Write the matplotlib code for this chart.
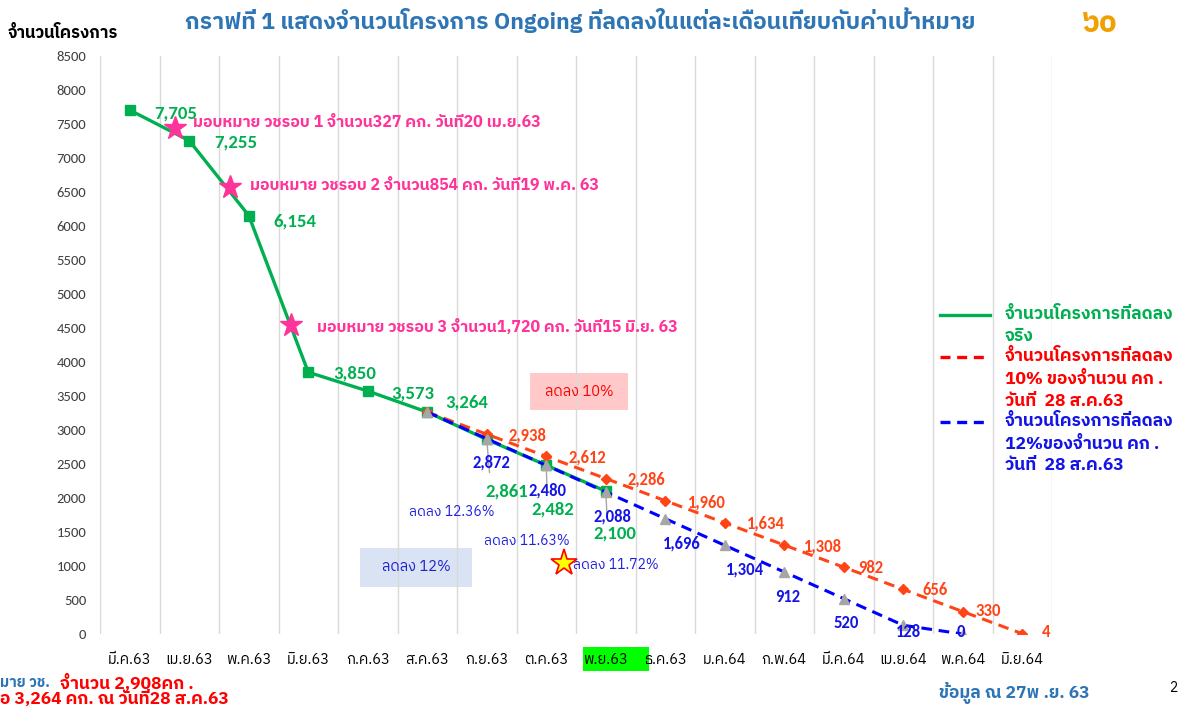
import matplotlib
matplotlib.use('Agg')
import matplotlib.pyplot as plt
import matplotlib.transforms as mtransforms
from matplotlib.patches import Rectangle
from matplotlib.lines import Line2D
import numpy as np

# ข้อมูล
months = ['มี.ค.63', 'เม.ย.63', 'พ.ค.63', 'มิ.ย.63', 'ก.ค.63', 'ส.ค.63', 'ก.ย.63', 'ต.ค.63',
          'พ.ย.63', 'ธ.ค.63', 'ม.ค.64', 'ก.พ.64', 'มี.ค.64', 'เม.ย.64', 'พ.ค.64', 'มิ.ย.64']
actual = [7705, 7255, 6154, 3850, 3573, 3264, 2861, 2482, 2100]
target10_start = 5
target10 = [3264, 2938, 2612, 2286, 1960, 1634, 1308, 982, 656, 330, 4]
target12_start = 5
target12 = [3264, 2872, 2480, 2088, 1696, 1304, 912, 520, 128, 0]

# การมอบหมาย วช. (ดาว)
assign_x = [0.76, 1.68, 2.71]
assign_y = [7441, 6573, 4544]
assign_text = ['มอบหมาย วชรอบ 1 จำนวน327 คก. วันที่20 เม.ย.63',
               'มอบหมาย วชรอบ 2 จำนวน854 คก. วันที่19 พ.ค. 63',
               'มอบหมาย วชรอบ 3 จำนวน1,720 คก. วันที่15 มิ.ย. 63']
now_x, now_y = 7.29, 1044

THAI = ['IBM Plex Sans Thai', 'Noto Sans Thai', 'DejaVu Sans']
NUM = ['Carlito', 'Open Sans', 'IBM Plex Sans Thai', 'DejaVu Sans']
plt.rcParams['font.family'] = THAI

GREEN = '#00B050'
RED = '#FF4517'
BLUE = '#0000FF'
PINK = '#FF3399'
TITLE = '#2E75B6'

W, H = 1185, 706
fig = plt.figure(figsize=(W / 100, H / 100), dpi=100)
ax = fig.add_axes([100 / W, (H - 634) / H, 952 / W, 578 / H])

def fx(px):
    return px / W

def fy(py):
    return 1 - py / H

x_all = np.arange(len(months))
x_act = x_all[:len(actual)]
x10 = x_all[target10_start:target10_start + len(target10)]
x12 = x_all[target12_start:target12_start + len(target12)]

# เส้นกราฟ
ax.plot(x_act, actual, color=GREEN, lw=2.4, marker='s', ms=7, zorder=3)
ax.plot(x10, target10, color=RED, lw=2.2, ls=(0, (3.5, 2.2)), marker='D', ms=5.5, zorder=4)
ax.plot(x12, target12, color=BLUE, lw=2.2, ls=(0, (3.5, 2.2)), marker='^', ms=7,
        mfc='#A6A6A6', mec='#A6A6A6', zorder=5)

# ป้ายค่าจริง (สีเขียว)
green_off = [(46, -3), (47, -2), (46, -6), (46, -1), (45, -2), (39, 10), (20, -52), (6, -44), (9, -42)]
for i, (xv, yv) in enumerate(zip(x_act, actual)):
    dx, dy = green_off[i]
    ax.annotate(f'{yv:,}', (xv, yv), xytext=(dx, dy), textcoords='offset pixels',
                ha='center', va='center', color=GREEN, fontsize=13.5, fontweight='bold',
                family=NUM, zorder=6)
    if dy < -30:
        ax.annotate('', (xv, yv), xytext=(dx * 0.15, dy + 16), textcoords='offset pixels',
                    arrowprops=dict(arrowstyle='-', color='#A6A6A6', lw=1))

red_off = [(41, -1), (41, -1), (41, -1), (42, -2), (41, -1), (39, -1), (27, -1), (32, -1), (25, 1), (24, 2)]
for i, (xv, yv) in enumerate(zip(x10[1:], target10[1:])):
    dx, dy = red_off[i]
    ax.annotate(f'{yv:,}', (xv, yv), xytext=(dx, dy), textcoords='offset pixels',
                ha='center', va='center', color=RED, fontsize=12, fontweight='bold',
                family=NUM, zorder=6)

blue_off = [(5, -24), (1, -25), (7, -24), (17, -25), (20, -24), (3, -25), (2, -24), (5, -7), (-2, 2)]
for i, (xv, yv) in enumerate(zip(x12[1:], target12[1:])):
    dx, dy = blue_off[i]
    ax.annotate(f'{yv:,}', (xv, yv), xytext=(dx, dy), textcoords='offset pixels',
                ha='center', va='center', color='#1414E6', fontsize=12, fontweight='bold',
                family=NUM, zorder=6)

# ดาวการมอบหมาย
ax.plot(assign_x, assign_y, ls='none', marker='*', ms=17, color=PINK, zorder=7)
assign_off = [(18, 6), (20, 2), (26, -2)]
for xv, yv, t, (dx, dy) in zip(assign_x, assign_y, assign_text, assign_off):
    ax.annotate(t, (xv, yv), xytext=(dx, dy), textcoords='offset pixels',
                ha='left', va='center', color=PINK, fontsize=11.5, fontweight='bold', zorder=7)

ax.plot([now_x], [now_y], ls='none', marker='*', ms=20, color='#FFFF00', mec='#FF0000', mew=1.2, zorder=7)
ax.annotate('ลดลง 11.72%', (now_x, now_y), xytext=(9, -2), textcoords='offset pixels',
            ha='left', va='center', color='#2020E0', fontsize=10)
ax.text(5.42, 1794, 'ลดลง 12.36%', ha='center', va='center', color='#2020E0', fontsize=10)
ax.text(6.68, 1368, 'ลดลง 11.63%', ha='center', va='center', color='#2020E0', fontsize=10)

# กล่องข้อความ
ax.add_patch(Rectangle((6.727, 3294), 1.647, 544, facecolor='#FFC9C9', edgecolor='none', zorder=1))
ax.text(7.55, 3566, 'ลดลง 10%', ha='center', va='center', color='#FF0000', fontsize=10.5)
ax.add_patch(Rectangle((3.870, 691), 1.882, 574, facecolor='#DAE3F3', edgecolor='none', zorder=1))
ax.text(4.81, 978, 'ลดลง 12%', ha='center', va='center', color='#1F1FD0', fontsize=10.5)

# แกน
ax.set_xlim(-0.5, 15.5)
ax.set_ylim(0, 8500)
ax.set_yticks(np.arange(0, 8501, 500))
ax.set_xticks(x_all)
ax.set_xticklabels(months, fontsize=10.5, color='#000000')
ax.set_xticks(np.arange(-0.5, 16, 1), minor=True)
ax.grid(which='minor', axis='x', color='#D9D9D9', lw=1)
ax.tick_params(axis='both', which='both', length=0)
ax.tick_params(axis='y', labelsize=10.5, labelcolor='#404040', pad=10)
ax.tick_params(axis='x', pad=14)
for lab in ax.get_yticklabels():
    lab.set_family(NUM)
for s in ax.spines.values():
    s.set_visible(False)

# แถบเขียวเน้นเดือนปัจจุบัน
trans = mtransforms.blended_transform_factory(ax.transData, ax.transAxes)
ax.add_patch(Rectangle((7.61, -0.064), 1.11, 0.0415, transform=trans, facecolor='#00FF00',
                       edgecolor='none', clip_on=False, zorder=0))

# ชื่อกราฟ
fig.text(fx(580), fy(20), 'กราฟที่ 1 แสดงจำนวนโครงการ Ongoing ที่ลดลงในแต่ละเดือนเทียบกับค่าเป้าหมาย',
         ha='center', va='center', color=TITLE, fontsize=16.5, fontweight='bold')
fig.text(fx(8), fy(33), 'จำนวนโครงการ', ha='left', va='center', color='black',
         fontsize=12, fontweight='bold')

# คำอธิบาย
leg = [(315, GREEN, '-', GREEN, ['จำนวนโครงการที่ลดลง', 'จริง']),
       (357, '#FF0000', (0, (3, 2)), '#FF0000', ['จำนวนโครงการที่ลดลง', '10% ของจำนวน คก .', 'วันที่  28 ส.ค.63']),
       (422, '#0000FF', (0, (3, 2)), '#1414E6', ['จำนวนโครงการที่ลดลง', '12%ของจำนวน คก .', 'วันที่  28 ส.ค.63'])]
for py, lc, ls, tc, lines in leg:
    fig.add_artist(Line2D([fx(940), fx(990)], [fy(py), fy(py)], color=lc, lw=2.4, ls=ls))
    for k, t in enumerate(lines):
        fig.text(fx(1005), fy(py - 1 + k * 22.5), t, ha='left', va='center', color=tc,
                 fontsize=12.5, fontweight='bold')

# ข้อความด้านล่าง
fig.text(fx(0), fy(683), 'มาย วช.', ha='left', va='center', color=TITLE, fontsize=10.5, fontweight='bold')
fig.text(fx(60), fy(683), 'จำนวน 2,908คก .', ha='left', va='center', color='#FF0000', fontsize=12.5, fontweight='bold')
fig.text(fx(0), fy(699), 'อ 3,264 คก. ณ วันที่28 ส.ค.63', ha='left', va='center', color='#FF0000',
         fontsize=12.5, fontweight='bold')
fig.text(fx(1014), fy(693), 'ข้อมูล ณ 27พ .ย. 63', ha='center', va='center', color=TITLE,
         fontsize=12.5, fontweight='bold')
fig.text(fx(1173), fy(688), '2', ha='center', va='center', color='black', fontsize=10)

# โลโก้ (ประมาณ)
fig.text(fx(1100), fy(24), '๖๐', ha='center', va='center', color='#F0A000', fontsize=22, fontweight='bold')

fig.savefig('out.png', dpi=100)
